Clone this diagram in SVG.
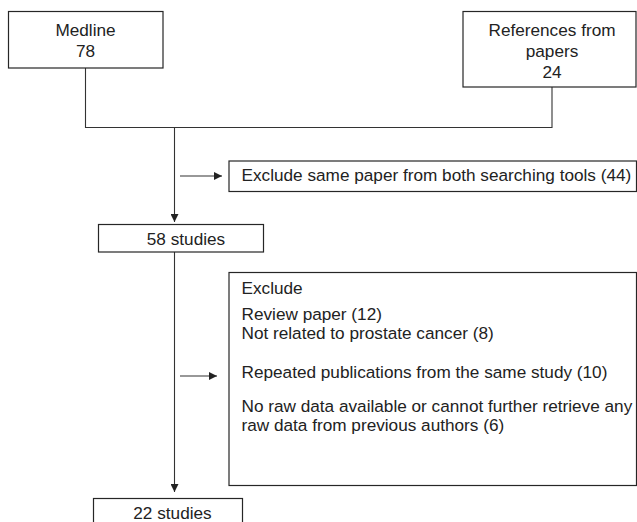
<svg xmlns="http://www.w3.org/2000/svg" width="637" height="522" viewBox="0 0 637 522">
<style>
.box{fill:#fff;stroke:#262626;stroke-width:1.2}
.ln{fill:none;stroke:#333;stroke-width:1.1}
.t{font-family:"Liberation Sans",Arial,sans-serif;font-size:17.2px;fill:#222}
.c{text-anchor:middle}
</style>
<defs>
<marker id="ah" viewBox="0 0 10 10" refX="10" refY="5" markerWidth="8" markerHeight="8" markerUnits="userSpaceOnUse" orient="auto">
<path d="M0,0 L10,5 L0,10 Z" fill="#222"/>
</marker>
</defs>
<g id="connectors">
<polyline class="ln" points="85.5,68 85.5,127.5 552,127.5 552,87"/>
<line class="ln" x1="174.5" y1="127.5" x2="174.5" y2="222" marker-end="url(#ah)"/>
<line class="ln" x1="180" y1="176" x2="222" y2="176" marker-end="url(#ah)"/>
<line class="ln" x1="174.5" y1="252" x2="174.5" y2="492" marker-end="url(#ah)"/>
<line class="ln" x1="180" y1="376" x2="217" y2="376" marker-end="url(#ah)"/>
</g>
<g id="medline">
<rect class="box" x="8.5" y="11.5" width="154.5" height="56.5"/>
<text class="t c" x="85.5" y="35.5">Medline</text>
<text class="t c" x="85.5" y="56.5">78</text>
</g>
<g id="references">
<rect class="box" x="463" y="11.5" width="173" height="75.5"/>
<text class="t c" x="552" y="35.5">References from</text>
<text class="t c" x="552" y="56.5">papers</text>
<text class="t c" x="552" y="77.5">24</text>
</g>
<g id="exclude1">
<rect class="box" x="229" y="161" width="407.5" height="30.5"/>
<text class="t" x="241.5" y="181">Exclude same paper from both searching tools (44)</text>
</g>
<g id="studies58">
<rect class="box" x="98.5" y="224.5" width="165" height="27.5"/>
<text class="t c" x="186" y="244.5">58 studies</text>
</g>
<g id="exclude2">
<rect class="box" x="229" y="272.5" width="407.5" height="213"/>
<text class="t" x="241.5" y="294">Exclude</text>
<text class="t" x="241.5" y="320">Review paper (12)</text>
<text class="t" x="241.5" y="339">Not related to prostate cancer (8)</text>
<text class="t" x="241.5" y="378">Repeated publications from the same study (10)</text>
<text class="t" x="241.5" y="412">No raw data available or cannot further retrieve any</text>
<text class="t" x="241.5" y="431">raw data from previous authors (6)</text>
</g>
<g id="studies22">
<rect class="box" x="93.5" y="498.5" width="149" height="30"/>
<text class="t c" x="172.5" y="518.5">22 studies</text>
</g>
</svg>
